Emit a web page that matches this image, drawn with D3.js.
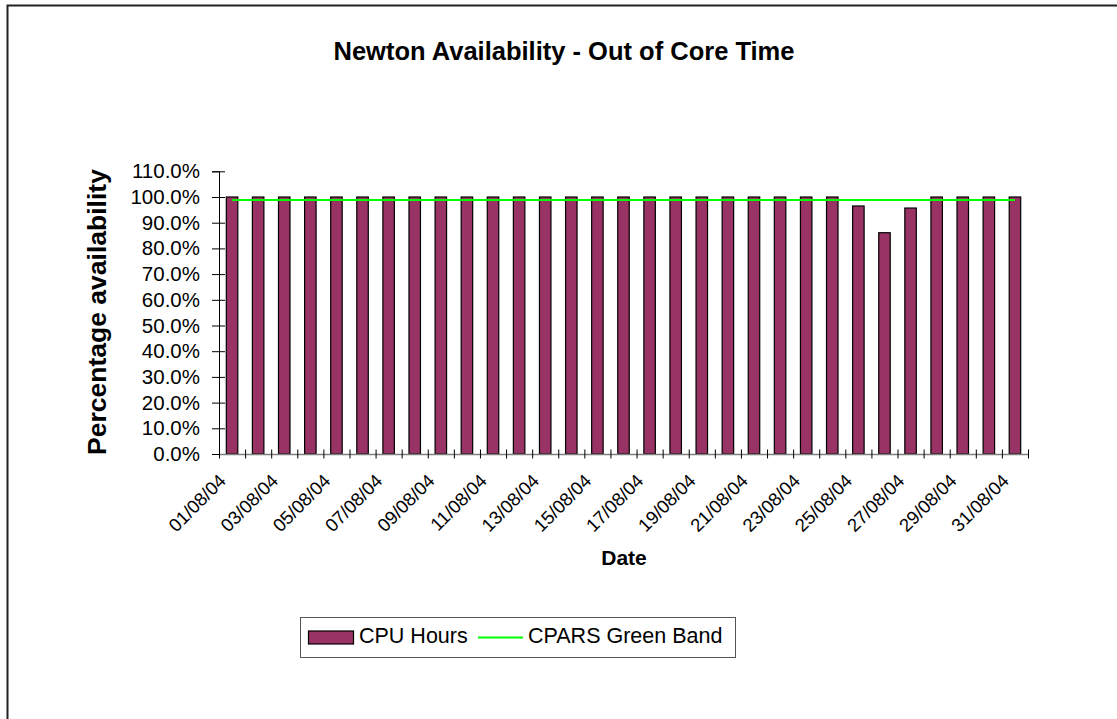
<!DOCTYPE html>
<html>
<head>
<meta charset="utf-8">
<script src="https://cdn.jsdelivr.net/npm/d3@7"></script>
<style>
  body { margin: 0; background: #fff; }
  svg { display: block; font-family: "Liberation Sans", Arial, sans-serif; }
</style>
</head>
<body>
<div id="chart"></div>
<script>
// chart data
var dates = ["01/08/04","02/08/04","03/08/04","04/08/04","05/08/04","06/08/04","07/08/04","08/08/04",
  "09/08/04","10/08/04","11/08/04","12/08/04","13/08/04","14/08/04","15/08/04","16/08/04",
  "17/08/04","18/08/04","19/08/04","20/08/04","21/08/04","22/08/04","23/08/04","24/08/04",
  "25/08/04","26/08/04","27/08/04","28/08/04","29/08/04","30/08/04","31/08/04"];
var cpuHours = [1,1,1,1,1,1,1,1, 1,1,1,1,1,1,1,1, 1,1,1,1,1,1,1,1,
  0.965,0.861,0.957,1,1,1,1];
var greenBand = [0.988,0.988,0.988,0.988,0.988,0.988,0.988,0.988,0.988,0.988,0.988,0.988,0.988,0.988,0.988,0.988,
  0.988,0.988,0.988,0.988,0.988,0.988,0.988,0.988,0.988,0.988,0.988,0.988,0.988,0.988,0.988];
var yTicks = [0,0.1,0.2,0.3,0.4,0.5,0.6,0.7,0.8,0.9,1.0,1.1];

var svg = d3.select("#chart").append("svg")
  .attr("width", 1117)
  .attr("height", 719);

// outer frame (only top and left visible)
svg.append("rect")
  .attr("x", 7.5).attr("y", 5.5)
  .attr("width", 1300).attr("height", 800)
  .attr("fill", "none")
  .attr("stroke", "#222")
  .attr("stroke-width", 2);

var x = d3.scaleBand().domain(dates).range([219, 1028]).padding(0);
var y = d3.scaleLinear().domain([0, 1.1]).range([454, 171.3]);
var barW = x.bandwidth() * 0.44;

// title
svg.append("text")
  .attr("x", 564).attr("y", 60)
  .attr("text-anchor", "middle")
  .attr("font-weight", "bold")
  .attr("font-size", "25.5px")
  .text("Newton Availability - Out of Core Time");

// bars
svg.selectAll(".bar")
  .data(cpuHours)
  .enter().append("rect")
  .attr("class", "bar")
  .attr("x", function(d, i) { return x(dates[i]) + (x.bandwidth() - barW) / 2; })
  .attr("y", function(d) { return y(d); })
  .attr("width", barW)
  .attr("height", function(d) { return y(0) - y(d); })
  .attr("fill", "#993366")
  .attr("stroke", "#000")
  .attr("stroke-width", 1.2);

// y axis
var yAxis = svg.append("g")
  .attr("transform", "translate(219,0)")
  .call(d3.axisLeft(y).tickValues(yTicks).tickSize(7).tickPadding(12)
    .tickFormat(d3.format(".1%")));
yAxis.select(".domain").attr("stroke", "#000");
yAxis.selectAll(".tick line").attr("x1", 6);
yAxis.selectAll(".tick text")
  .attr("font-size", "20.5px")
  .attr("font-family", "Liberation Sans, Arial, sans-serif")
  .attr("fill", "#000");

// x axis: ticks on category boundaries
var xi = d3.scaleLinear().domain([0, dates.length]).range([219, 1028]);
var xAxis = svg.append("g")
  .attr("transform", "translate(0,454)")
  .call(d3.axisBottom(xi).tickValues(d3.range(dates.length + 1)).tickSize(4.5).tickSizeOuter(0).tickFormat(""));
xAxis.select(".domain").attr("stroke", "#808080").attr("stroke-width", 1.5);
xAxis.selectAll(".tick line").attr("y1", -4.5).attr("stroke", "#000");

// rotated date labels, every other category
svg.selectAll(".xlab")
  .data(dates.filter(function(d, i) { return i % 2 === 0; }))
  .enter().append("text")
  .attr("class", "xlab")
  .attr("text-anchor", "end")
  .attr("font-size", "18.5px")
  .attr("transform", function(d) {
    return "translate(" + (x(d) + x.bandwidth() / 2 - 5) + ",482) rotate(-45)";
  })
  .text(function(d) { return d; });

// green band line
var line = d3.line()
  .x(function(d, i) { return x(dates[i]) + x.bandwidth() / 2; })
  .y(function(d) { return y(d); });
svg.append("path")
  .datum(greenBand)
  .attr("d", line)
  .attr("fill", "none")
  .attr("stroke", "#00ff00")
  .attr("stroke-width", 2);

// axis titles
svg.append("text")
  .attr("transform", "translate(106,312) rotate(-90)")
  .attr("text-anchor", "middle")
  .attr("font-weight", "bold")
  .attr("font-size", "26.5px")
  .text("Percentage availability");

svg.append("text")
  .attr("x", 624).attr("y", 565)
  .attr("text-anchor", "middle")
  .attr("font-weight", "bold")
  .attr("font-size", "21px")
  .text("Date");

// legend
var legend = svg.append("g");
legend.append("rect")
  .attr("x", 300.5).attr("y", 617.5)
  .attr("width", 435).attr("height", 40)
  .attr("fill", "#fff")
  .attr("stroke", "#555");
legend.append("rect")
  .attr("x", 308.5).attr("y", 631)
  .attr("width", 45).attr("height", 13)
  .attr("fill", "#993366")
  .attr("stroke", "#000")
  .attr("stroke-width", 1.2);
legend.append("text")
  .attr("x", 359).attr("y", 643)
  .attr("font-size", "21.5px")
  .text("CPU Hours");
legend.append("line")
  .attr("x1", 478).attr("x2", 523)
  .attr("y1", 637.5).attr("y2", 637.5)
  .attr("stroke", "#00ff00")
  .attr("stroke-width", 2);
legend.append("text")
  .attr("x", 528).attr("y", 643)
  .attr("font-size", "21.5px")
  .text("CPARS Green Band");
</script>
</body>
</html>
